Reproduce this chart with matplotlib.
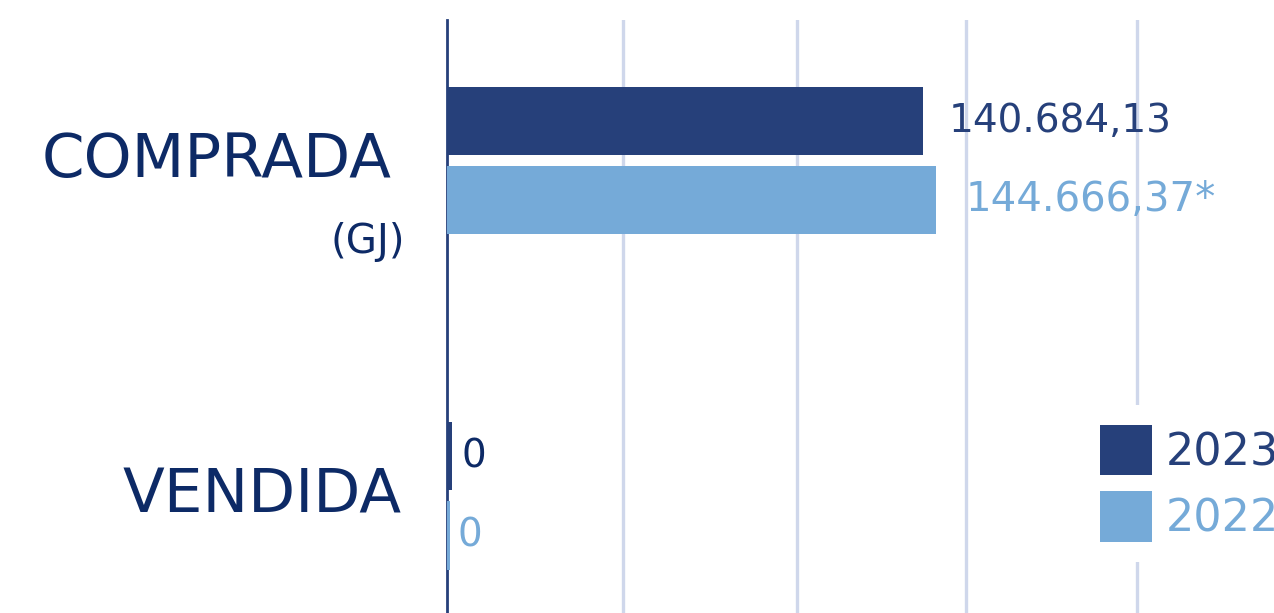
import numpy as np
import matplotlib.pyplot as plt

plt.rcParams['font.family'] = ['DejaVu Sans']

categories = ["COMPRADA", "VENDIDA"]
years = ["2023", "2022"]
values_2023 = [140684.13, 0]
values_2022 = [144666.37, 0]
labels_2023 = ["140.684,13", "0"]
labels_2022 = ["144.666,37*", "0"]
grid_values = [52000, 103500, 153500, 204000]

dark = '#26407a'
light = '#75aad8'
navy = '#0d2a66'
grid_col = '#cfd7eb'

fig = plt.figure(figsize=(12.74, 6.13), dpi=100)
ax = fig.add_axes([447 / 1274, 0, 827 / 1274, 593 / 613])

y = np.arange(len(categories))
off = 0.118
h = 0.203

ax.barh(y - off, values_2023, height=h, color=dark, label=years[0], zorder=3)
ax.barh(y + off, values_2022, height=h, color=light, label=years[1], zorder=3)
# zero bars still show as thin lines next to the axis
ax.barh([y[1] - off], [1400], height=h, color=dark, zorder=3)
ax.barh([y[1] + off], [900], height=h, color=light, zorder=3)

for gx in grid_values:
    ax.axvline(gx, color=grid_col, lw=2.4, zorder=1)

ax.set_xlim(0, 827 / 3.38 * 1000)
ax.set_ylim(1.349, -0.419)

for s in ['top', 'right', 'bottom']:
    ax.spines[s].set_visible(False)
ax.spines['left'].set_color(dark)
ax.spines['left'].set_linewidth(2.0)
ax.spines['left'].set_zorder(2)
ax.set_xticks([])
ax.set_yticks([])

# value labels
ax.annotate(labels_2023[0], xy=(values_2023[0], y[0] - off), xytext=(26, 0),
            textcoords='offset pixels', va='center', ha='left', fontsize=28, color=dark)
ax.annotate(labels_2022[0], xy=(values_2022[0], y[0] + off), xytext=(30, 0),
            textcoords='offset pixels', va='center', ha='left', fontsize=29, color=light)
ax.annotate(labels_2023[1], xy=(values_2023[1], y[1] - off), xytext=(14, 0),
            textcoords='offset pixels', va='center', ha='left', fontsize=28, color=navy)
ax.annotate(labels_2022[1], xy=(values_2022[1], y[1] + off), xytext=(11, 0),
            textcoords='offset pixels', va='center', ha='left', fontsize=28, color=light)

# category labels
ax.annotate(categories[0], xy=(0, y[0]), xytext=(-55, 0), textcoords='offset pixels',
            va='center', ha='right', fontsize=44, color=navy, annotation_clip=False)
ax.annotate("(GJ)", xy=(0, y[0]), xytext=(-42, -81), textcoords='offset pixels',
            va='center', ha='right', fontsize=29, color=navy, annotation_clip=False)
ax.annotate(categories[1], xy=(0, y[1]), xytext=(-45, 0), textcoords='offset pixels',
            va='center', ha='right', fontsize=44, color=navy, annotation_clip=False)

leg = ax.legend(loc='upper left', bbox_to_anchor=(1058 / 1274, 1 - 383 / 613),
                bbox_transform=fig.transFigure, frameon=True, fontsize=32,
                handlelength=1.17, handleheight=1.36, handletextpad=0.3,
                labelspacing=0.36, borderpad=0.45)
leg.get_frame().set_facecolor('white')
leg.get_frame().set_edgecolor('none')
leg.get_frame().set_alpha(1)
for t, c in zip(leg.get_texts(), [dark, light]):
    t.set_color(c)

fig.savefig('out.png', dpi=100)
